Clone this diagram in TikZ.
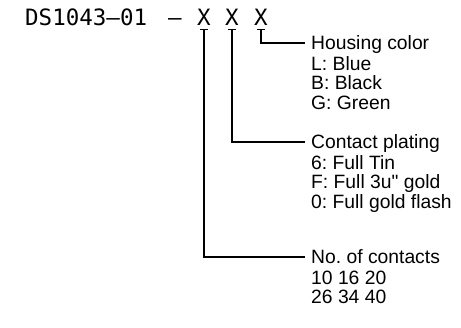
\documentclass[tikz,border=0pt]{standalone}
\usepackage{fontspec}
\setmainfont{Liberation Sans}[Ligatures=TeXOff]
\newfontfamily\codefont{DejaVu Sans Mono}
\frenchspacing
\begin{document}
\begin{tikzpicture}[x=1pt, y=-1pt,
    code/.style={font=\codefont\fontsize{22.5}{22.5}\selectfont, inner sep=0pt, anchor=base},
    head/.style={anchor=west, inner xsep=6pt, inner ysep=0pt, text height=13.6pt, text depth=0pt,
        font=\fontsize{19.3}{19.5}\selectfont},
    opts/.style={anchor=north west, inner xsep=6pt, inner ysep=0pt, align=left,
        font=\fontsize{19.3}{19.5}\selectfont},
    lead/.style={line width=1.2pt}]
    \useasboundingbox (0,0) rectangle (461,327);

    % 型号
    \node[code, anchor=base west] (part) at (25,25) {DS1043–01};
    \node[code] (dash) at (175,25) {–};
    \node[code] (xa) at (204,25) {X};
    \node[code] (xb) at (232,25) {X};
    \node[code] (xc) at (261,25) {X};

    % 说明
    \node[head] (housing) at (305,43) {Housing color};
    \node[opts] (colors) at (305,56) {L: Blue\\B: Black\\G: Green};
    \node[head] (plating) at (305,142) {Contact plating};
    \node[opts] (finish) at (305,155) {6: Full Tin\\F: Full 3u" gold\\0: Full gold flash};
    \node[head] (contacts) at (305,257) {No. of contacts};
    \node[opts] (counts) at (305,270.5) {10 16 20\\26 34 40};

    % 引线
    \foreach \x/\t in {xa/contacts, xb/plating, xc/housing} {
        \draw[lead] (\x.south) ++(-4,4) -- ++(8,0);
        \draw[lead] (\x.south) ++(0,4) |- (\t.west);
    }
\end{tikzpicture}
\end{document}
